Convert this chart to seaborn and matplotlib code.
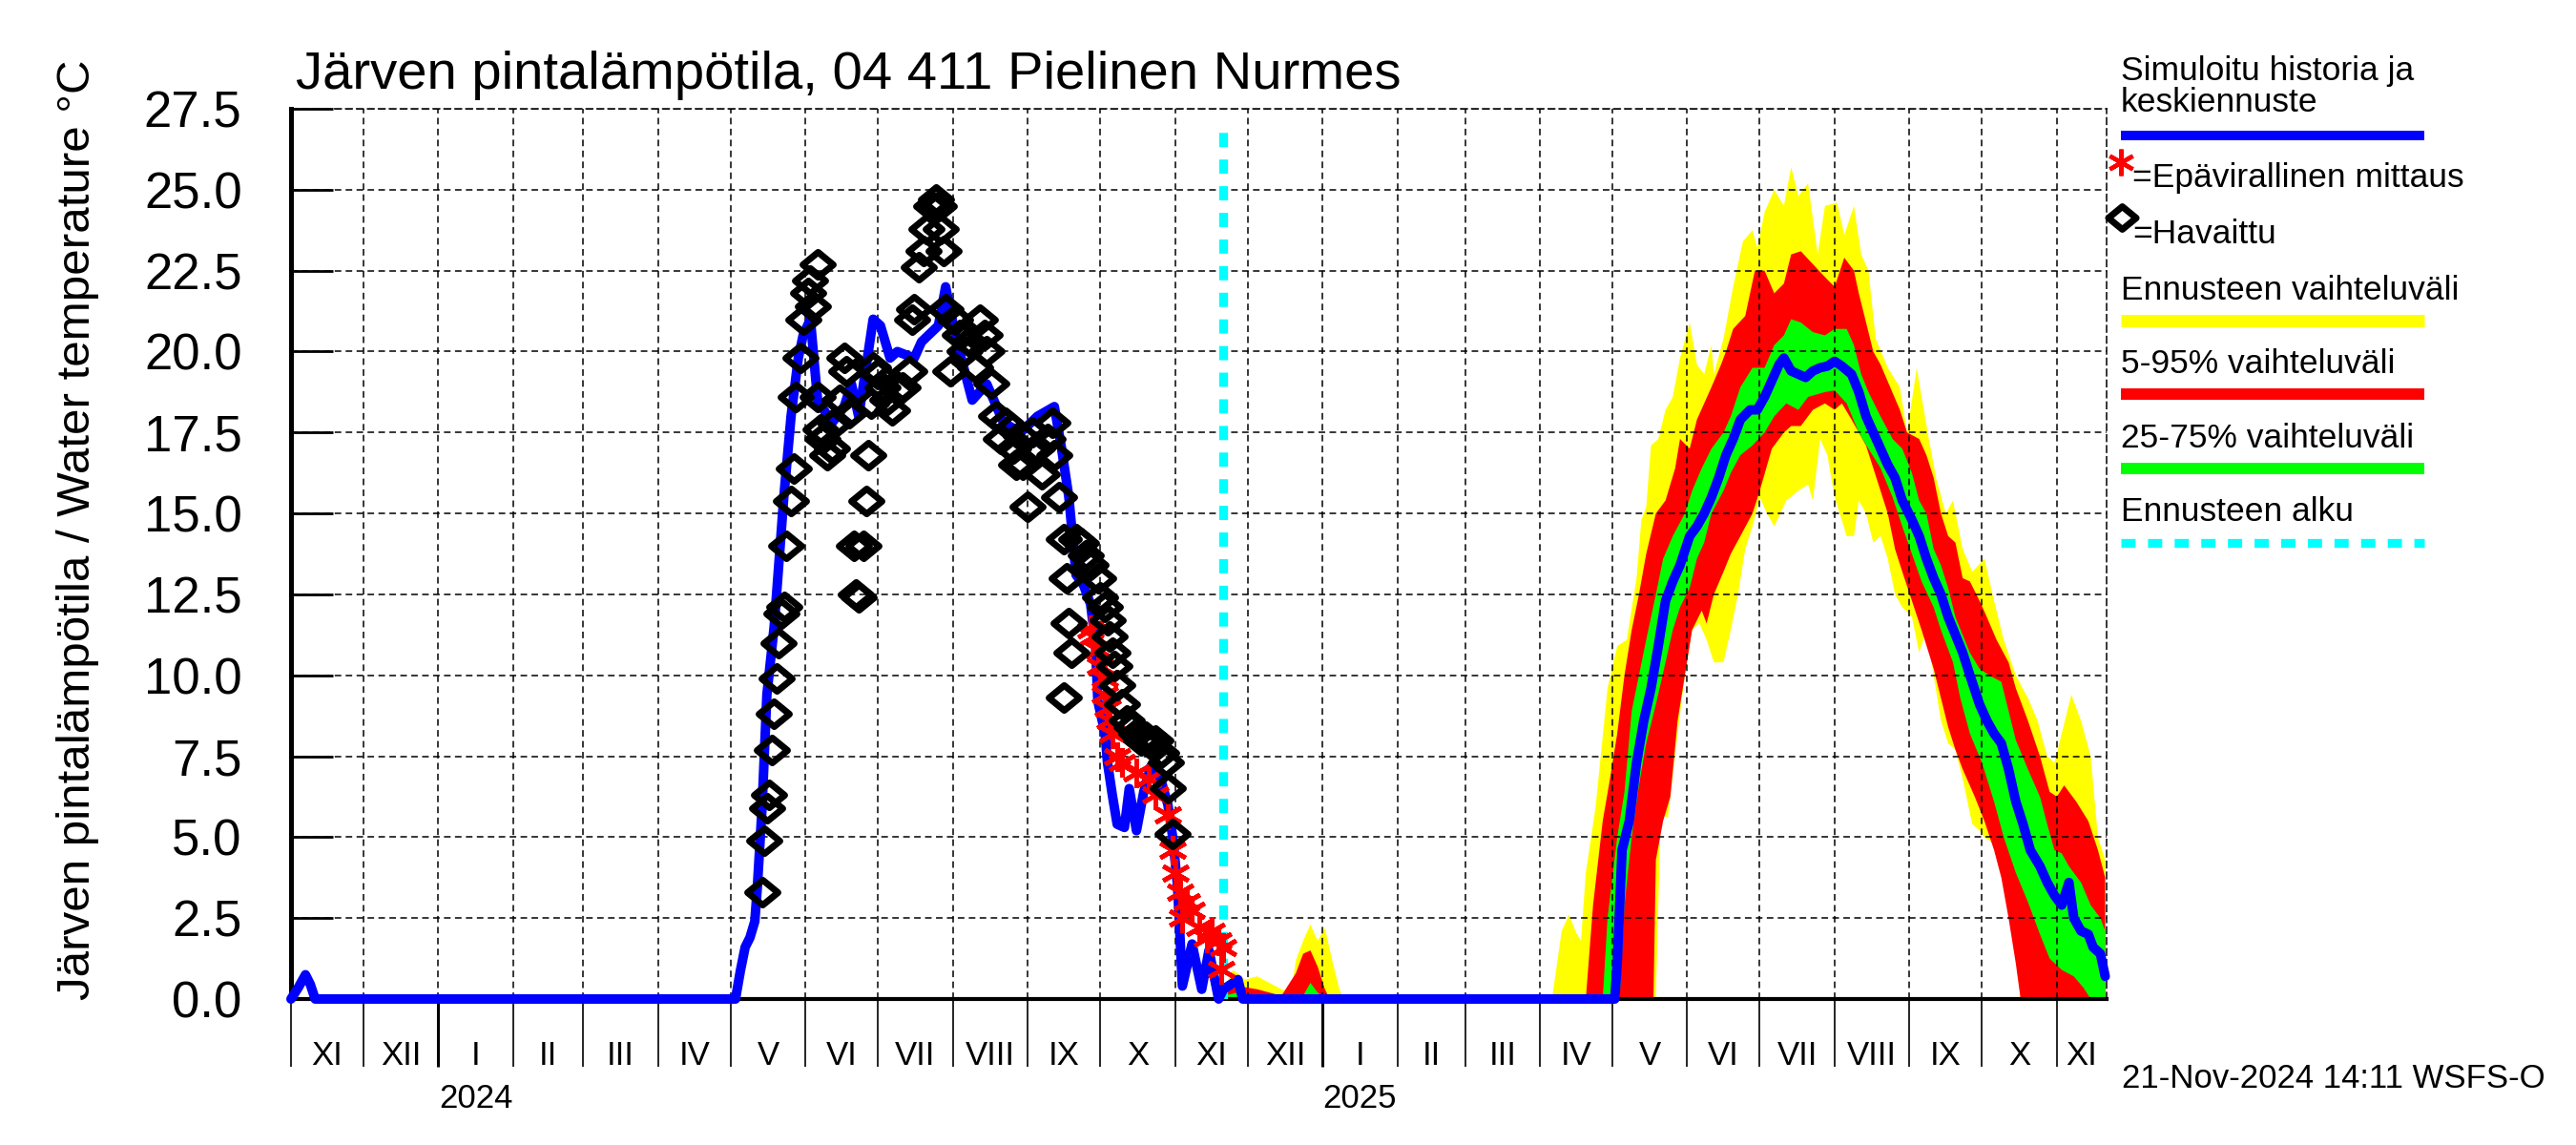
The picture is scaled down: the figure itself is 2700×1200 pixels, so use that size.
import numpy as np
import pandas as pd
import matplotlib
matplotlib.use("Agg")
import matplotlib.pyplot as plt
import matplotlib.dates as mdates
from matplotlib.lines import Line2D
from matplotlib.path import Path
import seaborn as sns

# ---------------- data ----------------
BASE = pd.Timestamp("2023-11-01")      # day 0 for history / observations
FC_BASE = pd.Timestamp("2025-04-01")   # day 0 for the spring-autumn 2025 forecast bands
FORECAST_START = pd.Timestamp("2024-11-21")
XMIN = pd.Timestamp("2023-11-01")
XMAX = pd.Timestamp("2025-11-21 14:00")

# simulated history (blue), days since BASE
sim_day = [0, 3, 6, 8, 10, 184, 186, 188, 190, 192, 193, 195, 197, 200, 202, 204, 207, 210,
           212, 215, 218, 224, 229, 232, 235, 241, 244, 248, 251, 258, 261, 268, 271, 275,
           282, 288, 295, 302, 309, 316, 319, 322, 325, 328, 331, 333, 334, 337, 338, 340,
           342, 345, 347, 350, 353, 356, 360, 363, 365, 367, 369, 373, 377, 380, 384, 386]
sim_val = [0, 0.35, 0.75, 0.45, 0, 0, 0.86, 1.6, 1.9, 2.4, 3.4, 5.9, 9.4, 11.5, 13.5, 15.5, 18.0, 19.8,
           20.5, 21.0, 18.5, 17.8, 18.3, 19.0, 18.0, 21.0, 20.8, 19.8, 20.0, 19.8, 20.3, 20.8, 22.0, 20.5,
           18.5, 19.0, 17.8, 17.5, 18.0, 18.3, 17.0, 15.5, 13.1, 12.8, 12.2, 11.0, 9.2, 8.2, 7.3, 6.3,
           5.4, 5.3, 6.5, 5.2, 6.4, 7.2, 6.8, 6.0, 5.0, 3.5, 0.4, 1.7, 0.3, 1.5, 0.0, 0.3]

# median forecast, winter part (days since BASE)
med_w_day = [386, 388, 392, 394, 548]
med_w_val = [0.3, 0.4, 0.6, 0.0, 0.0]

# median forecast 2025 (days since FC_BASE)
med_day = [31, 32, 34, 37, 40, 43, 46, 49, 52, 55, 58, 62, 65, 68, 71, 74, 77, 80, 83, 87, 90, 93, 96,
           99, 101, 104, 107, 110, 113, 116, 119, 122, 125, 129, 132, 135, 138, 141, 144, 147, 150,
           154, 157, 160, 163, 166, 169, 172, 175, 178, 182, 185, 188, 191, 194, 197, 200, 203, 207,
           210, 213, 216, 219, 221, 224, 227, 229, 232, 234]
med_val = [0, 1.1, 4.6, 5.5, 7.3, 8.6, 9.6, 10.9, 12.3, 12.9, 13.4, 14.3, 14.6, 15.0, 15.5, 16.1, 16.8,
           17.3, 17.9, 18.2, 18.2, 18.6, 19.1, 19.6, 19.8, 19.4, 19.3, 19.2, 19.4, 19.5, 19.55, 19.7,
           19.55, 19.3, 18.75, 18.0, 17.5, 17.0, 16.5, 16.1, 15.4, 14.8, 14.3, 13.6, 13.0, 12.5, 11.8,
           11.25, 10.7, 10.0, 9.1, 8.6, 8.2, 7.9, 7.1, 6.1, 5.4, 4.6, 4.1, 3.6, 3.2, 2.9, 3.6, 2.5, 2.1,
           2.0, 1.6, 1.4, 0.7]

# forecast range (yellow), days since FC_BASE
yel_hi_day = [0, 5, 9, 12, 15, 17, 19, 23, 28, 32, 36, 37, 40, 42, 44, 46, 49, 52, 55, 58, 62, 65, 68,
              71, 72, 76, 80, 84, 88, 90, 93, 97, 101, 104, 107, 111, 115, 118, 123, 126, 130, 133,
              136, 139, 144, 149, 152, 156, 158, 161, 164, 168, 171, 175, 179, 184, 188, 192, 197,
              202, 206, 210, 213, 216, 220, 224, 228, 231, 234]
yel_hi_val = [0, 0, 2.1, 2.6, 2.05, 1.8, 3.9, 5.9, 9.6, 10.9, 11.1, 11.6, 13.0, 14.8, 15.2, 17.1, 17.3,
              18.2, 18.6, 19.8, 20.9, 19.6, 19.3, 20.2, 19.3, 20.4, 22.0, 23.4, 23.75, 23.2, 24.3, 25.0,
              24.5, 25.7, 24.8, 25.2, 23.0, 24.5, 24.6, 23.6, 24.5, 23.0, 22.5, 20.4, 19.5, 18.9, 17.5,
              19.5, 18.6, 17.3, 16.1, 15.0, 15.4, 13.9, 13.2, 13.6, 12.3, 11.1, 10.0, 9.3, 8.6, 7.5, 7.3,
              8.2, 9.4, 8.6, 7.5, 5.0, 4.3]
yel_lo_day = [0, 48, 50, 53, 57, 60, 63, 66, 69, 72, 76, 79, 82, 85, 88, 91, 94, 97, 102, 107, 111, 113,
              116, 119, 122, 127, 130, 132, 135, 138, 141, 144, 147, 150, 154, 157, 160, 163, 166, 169,
              172, 175, 179, 182, 184, 188, 192, 196, 199, 234]
yel_lo_val = [0, 0, 5.7, 5.6, 8.2, 10.0, 11.4, 11.6, 11.1, 10.4, 10.4, 11.4, 12.5, 13.9, 14.6, 15.5,
              15.0, 14.6, 15.4, 15.7, 15.9, 15.4, 17.3, 16.8, 15.5, 14.3, 14.3, 15.4, 15.0, 14.1, 14.3,
              13.6, 12.5, 12.1, 11.8, 10.7, 11.4, 10.0, 8.6, 7.9, 7.7, 6.8, 5.4, 5.2, 5.0, 4.8, 3.6, 2.1,
              0, 0]

# 5-95 % range (red)
red_hi_day = [0, 19, 22, 26, 29, 32, 35, 38, 41, 44, 48, 52, 56, 58, 62, 65, 68, 71, 75, 77, 80, 85,
              89, 93, 97, 101, 104, 108, 113, 118, 122, 126, 130, 132, 135, 138, 141, 145, 149, 152,
              157, 160, 163, 166, 169, 172, 175, 178, 182, 185, 189, 194, 197, 202, 207, 211, 214, 217,
              222, 227, 231, 234]
red_hi_val = [0, 0, 2.9, 5.5, 6.8, 8.2, 10.0, 11.4, 12.5, 13.75, 15.0, 15.4, 16.4, 17.3, 17.0, 17.9,
              18.4, 18.9, 19.6, 20.0, 20.7, 21.1, 22.5, 22.5, 21.8, 22.1, 23.0, 23.1, 22.7, 22.3, 22.0,
              22.9, 22.5, 21.8, 20.9, 20.0, 19.6, 18.9, 18.2, 17.5, 17.3, 16.8, 16.1, 15.0, 14.3, 14.1,
              13.0, 12.9, 12.3, 11.8, 11.1, 10.4, 9.6, 8.6, 7.5, 6.4, 6.25, 6.6, 6.1, 5.5, 4.6, 3.75]
red_lo_day = [0, 47, 48, 51, 54, 57, 60, 63, 67, 69, 72, 76, 79, 83, 88, 91, 96, 101, 104, 108, 113,
              118, 122, 125, 129, 132, 135, 138, 141, 144, 147, 150, 154, 158, 163, 166, 169, 172, 175,
              180, 184, 188, 191, 194, 197, 199, 234]
red_lo_val = [0, 0, 4.3, 5.5, 6.25, 8.6, 10.0, 11.4, 12.0, 11.6, 12.5, 13.2, 13.75, 14.3, 15.0, 15.7,
              17.0, 17.5, 17.7, 17.7, 18.2, 18.4, 18.2, 18.4, 17.9, 17.5, 17.1, 16.4, 15.7, 15.0, 13.9,
              13.2, 12.3, 11.4, 10.2, 9.3, 8.4, 7.7, 7.1, 6.25, 5.5, 4.6, 3.75, 2.5, 1.1, 0, 0]

# 25-75 % range (green)
grn_hi_day = [0, 26, 28, 32, 35, 38, 41, 44, 48, 51, 55, 60, 63, 67, 71, 76, 79, 83, 88, 93, 97, 101,
              104, 108, 113, 118, 122, 127, 130, 133, 136, 141, 146, 150, 154, 157, 160, 163, 166, 169,
              172, 175, 178, 182, 186, 191, 194, 197, 202, 207, 210, 213, 216, 219, 224, 228, 232, 234]
grn_hi_val = [0, 0, 2.5, 5.0, 6.4, 8.9, 10.0, 11.1, 12.5, 13.6, 14.3, 15.0, 15.7, 16.4, 17.0, 17.5,
              18.0, 18.9, 19.5, 19.5, 20.2, 20.5, 21.0, 20.9, 20.6, 20.5, 20.7, 20.7, 20.2, 19.3, 18.75,
              18.0, 17.3, 17.0, 16.25, 15.4, 15.0, 13.9, 13.4, 12.7, 11.8, 11.25, 10.7, 10.2, 10.0, 9.8,
              8.9, 8.0, 7.1, 6.25, 5.4, 4.6, 4.5, 4.1, 3.6, 2.9, 2.5, 2.1]
grn_lo_day = [0, 33, 35, 38, 41, 44, 48, 52, 55, 58, 62, 65, 68, 71, 76, 79, 83, 88, 93, 97, 102, 107,
              111, 118, 122, 127, 132, 136, 141, 146, 150, 154, 158, 163, 166, 171, 174, 178, 183, 188,
              192, 197, 202, 207, 211, 216, 221, 225, 228, 234]
grn_lo_val = [0, 0, 2.9, 5.0, 6.6, 7.9, 9.1, 10.4, 11.4, 12.1, 12.7, 13.6, 14.1, 15.0, 15.7, 16.25,
              16.8, 17.1, 17.5, 18.0, 18.4, 18.2, 18.6, 18.75, 18.8, 18.4, 17.5, 17.0, 16.4, 15.5, 14.6,
              13.75, 12.9, 12.1, 11.4, 10.4, 9.3, 8.2, 7.3, 6.1, 5.0, 3.9, 3.0, 2.0, 1.25, 0.9, 0.7,
              0.35, 0, 0]

# early-winter forecast bands (days since BASE, lower edge 0)
yel_w_day = [386, 390, 395, 400, 405, 410, 414, 416, 419, 422, 425, 428, 431, 434, 436]
yel_w_val = [0.3, 0.9, 0.6, 0.7, 0.5, 0.3, 0.2, 1.2, 1.8, 2.3, 1.8, 2.2, 1.2, 0.3, 0]
red_w_day = [386, 392, 400, 410, 416, 419, 422, 425, 428, 430]
red_w_val = [0.2, 0.4, 0.3, 0.1, 0.8, 1.4, 1.5, 1.0, 0.3, 0]
grn_w_day = [386, 392, 400, 419, 422, 425, 428]
grn_w_val = [0.1, 0.2, 0.1, 0.1, 0.5, 0.2, 0]

# observations (black diamonds), days since BASE
obs_day = [195, 196, 197, 198, 199, 200, 201, 202, 203, 204, 205, 207, 208, 209, 211, 212, 214, 215,
           216, 218, 218, 219, 220, 222, 224, 225, 227, 229, 230, 231, 233, 234, 235, 237, 238, 239,
           240, 241, 243, 245, 247, 249, 251, 253, 256, 257, 258, 260, 262, 263, 265, 267, 268, 269,
           270, 271, 273, 275, 277, 279, 281, 283, 285, 287, 288, 290, 292, 294, 296, 299, 300, 302,
           303, 305, 307, 309, 311, 313, 315, 316, 318, 320, 321, 322, 323, 320, 325, 327, 329, 331,
           334, 335, 337, 338, 339, 340, 341, 342, 344, 346, 348, 350, 352, 354, 356, 358, 360, 362,
           363, 365]
obs_val = [3.3, 4.9, 5.9, 6.3, 7.7, 8.8, 9.9, 11.0, 11.9, 12.1, 14.0, 15.4, 16.4, 18.6, 19.8, 21.0,
           21.8, 22.2, 21.4, 22.7, 18.6, 17.6, 17.3, 16.8, 17.0, 17.8, 18.5, 19.8, 19.4, 18.1, 14.0,
           12.5, 12.4, 14.0, 15.4, 16.8, 18.4, 19.5, 19.3, 18.9, 18.5, 18.2, 18.8, 18.9, 19.4, 21.0,
           21.3, 22.6, 23.1, 23.8, 24.5, 24.7, 24.5, 23.8, 23.1, 21.3, 19.4, 21.0, 20.5, 20.0, 20.3,
           19.5, 21.0, 20.5, 20.0, 19.0, 18.0, 17.3, 17.8, 17.0, 16.5, 17.4, 16.5, 15.2, 17.5, 17.0,
           16.2, 17.3, 17.8, 16.8, 15.5, 14.2, 13.0, 11.6, 10.7, 9.3, 14.2, 14.1, 13.7, 13.4, 13.0,
           12.4, 12.1, 11.7, 11.2, 10.7, 10.3, 9.7, 9.1, 8.6, 8.4, 8.2, 8.0, 8.1, 7.9, 8.0, 7.6, 7.3,
           6.5, 5.1]

# unofficial measurements (red asterisks), days since BASE
ast_day = [331, 332, 334, 335, 337, 337, 338, 339, 340, 342, 344, 350, 355, 358, 363, 365, 366, 368,
           371, 369, 373, 376, 379, 381, 384, 385, 386]
ast_val = [11.4, 11.2, 10.8, 10.3, 9.9, 9.4, 9.0, 8.6, 8.2, 7.5, 7.3, 7.0, 6.8, 6.3, 5.7, 4.6, 3.9,
           3.3, 3.0, 2.5, 2.75, 2.2, 1.9, 2.1, 1.8, 0.9, 1.6]

ROMAN = ["I", "II", "III", "IV", "V", "VI", "VII", "VIII", "IX", "X", "XI", "XII"]
TITLE = "Järven pintalämpötila, 04 411 Pielinen Nurmes"
YLABEL = "Järven pintalämpötila / Water temperature °C"
FOOTER = "21-Nov-2024 14:11 WSFS-O"
LEG_SIM = ["Simuloitu historia ja", "keskiennuste"]
LEG_AST = "=Epävirallinen mittaus"
LEG_OBS = "=Havaittu"
LEG_YEL = "Ennusteen vaihteluväli"
LEG_RED = "5-95% vaihteluväli"
LEG_GRN = "25-75% vaihteluväli"
LEG_CYA = "Ennusteen alku"

# ---------------- helpers ----------------
def to_dates(base, days):
    return base + pd.to_timedelta(np.asarray(days, dtype=float), unit="D")

def band(ax, base, hi_d, hi_v, lo_d, lo_v, color, z):
    xh = mdates.date2num(to_dates(base, hi_d))
    xl = mdates.date2num(to_dates(base, lo_d))
    xs = np.concatenate([xh, xl[::-1]])
    ys = np.concatenate([np.asarray(hi_v, float), np.asarray(lo_v, float)[::-1]])
    ax.fill(xs, ys, color=color, lw=0, zorder=z)

# ---------------- style ----------------
sns.set_theme(style="white", rc={"axes.edgecolor": "black", "xtick.color": "black",
                                 "ytick.color": "black", "text.color": "black",
                                 "axes.labelcolor": "black"})
plt.rcParams["font.family"] = ["Liberation Sans", "DejaVu Sans"]

BLUE = (0, 0, 1)
YEL = (1, 1, 0)
RED = (1, 0, 0)
GRN = (0, 1, 0)
CYA = (0, 1, 1)

W, H = 2700, 1200
fig = plt.figure(figsize=(27, 12), dpi=100)
ax = fig.add_axes([305 / W, 1 - 1047 / H, (2208 - 305) / W, (1047 - 114) / H])

# seaborn line to establish the date axis
sim_df = pd.DataFrame({"date": to_dates(BASE, sim_day), "temp": sim_val})
sns.lineplot(data=sim_df, x="date", y="temp", ax=ax, color=BLUE, linewidth=7.2,
             estimator=None, sort=False, zorder=4, clip_on=False, legend=False)

# forecast bands
band(ax, FC_BASE, yel_hi_day, yel_hi_val, yel_lo_day, yel_lo_val, YEL, 1.0)
band(ax, FC_BASE, red_hi_day, red_hi_val, red_lo_day, red_lo_val, RED, 1.1)
band(ax, FC_BASE, grn_hi_day, grn_hi_val, grn_lo_day, grn_lo_val, GRN, 1.2)
band(ax, BASE, yel_w_day, yel_w_val, yel_w_day, [0] * len(yel_w_day), YEL, 1.0)
band(ax, BASE, red_w_day, red_w_val, red_w_day, [0] * len(red_w_day), RED, 1.1)
band(ax, BASE, grn_w_day, grn_w_val, grn_w_day, [0] * len(grn_w_day), GRN, 1.2)

# median forecast
med_df = pd.DataFrame({"date": np.concatenate([to_dates(BASE, med_w_day), to_dates(FC_BASE, med_day)]),
                       "temp": med_w_val + med_val})
sns.lineplot(data=med_df, x="date", y="temp", ax=ax, color=BLUE, linewidth=7.2,
             estimator=None, sort=False, zorder=4, clip_on=False, legend=False)

# forecast start line
ax.axvline(FORECAST_START, ymax=27.1 / 27.5, color=CYA, lw=6.7, linestyle=(0, (1.6, 1.4)),
           zorder=3.5)

# markers
ast_df = pd.DataFrame({"date": to_dates(BASE, ast_day), "temp": ast_val})
sns.lineplot(data=ast_df, x="date", y="temp", ax=ax, estimator=None, sort=False, legend=False,
             linestyle="none", marker=(6, 2, 0), markersize=22, markeredgewidth=3.4,
             color=RED, markeredgecolor=RED, zorder=5)
diamond = Path([(-1, 0), (0, 0.82), (1, 0), (0, -0.82), (-1, 0)],
               [Path.MOVETO, Path.LINETO, Path.LINETO, Path.LINETO, Path.CLOSEPOLY])
obs_df = pd.DataFrame({"date": to_dates(BASE, obs_day), "temp": obs_val})
sns.lineplot(data=obs_df, x="date", y="temp", ax=ax, estimator=None, sort=False, legend=False,
             linestyle="none", marker=diamond, markersize=23, markeredgewidth=5,
             markerfacecolor="none", markeredgecolor="black", color="black", zorder=6)

# ---------------- axes ----------------
ax.set_xlim(XMIN, XMAX)
ax.set_ylim(0, 27.5)
ax.set_xlabel("")
ax.set_ylabel("")
ax.set_yticks(np.arange(0, 27.51, 2.5))
ax.set_yticklabels([f"{v:.1f}" for v in np.arange(0, 27.51, 2.5)])
ax.xaxis.set_major_locator(mdates.YearLocator())
ax.xaxis.set_minor_locator(mdates.MonthLocator())
ax.tick_params(axis="x", which="both", direction="out", length=51, bottom=True,
               labelbottom=False, color="black")
ax.tick_params(axis="x", which="major", width=2.2)
ax.tick_params(axis="x", which="minor", width=1.2)
ax.tick_params(axis="y", which="major", direction="in", length=32, width=2, left=True,
               labelsize=38, pad=37)
ax.set_axisbelow(False)
grid_ls = (0, (4.5, 3.0))
ax.grid(True, which="both", axis="x", color="black", linestyle=grid_ls, linewidth=1.1)
ax.grid(True, which="major", axis="y", color="black", linestyle=grid_ls, linewidth=1.1)
for s in ("top", "right"):
    ax.spines[s].set_visible(True)
    ax.spines[s].set_linestyle(grid_ls)
    ax.spines[s].set_linewidth(1.1)
ax.spines["left"].set_linewidth(3.6)
ax.spines["bottom"].set_linewidth(3.0)
ax.spines["bottom"].set_zorder(3)

# month and year labels
xtr = ax.get_xaxis_transform()
for m in pd.date_range("2023-11-01", "2025-11-01", freq="MS"):
    start = max(m, XMIN)
    end = min(m + pd.offsets.MonthBegin(1), XMAX)
    center = start + (end - start) / 2
    ax.text(center, -0.0643, ROMAN[m.month - 1], transform=xtr, ha="center", va="center",
            fontsize=25)
    if m.month == 1:
        ax.text(center, -0.1125, str(m.year), transform=xtr, ha="center", va="center",
                fontsize=25)

# ---------------- figure texts ----------------
fig.text(310 / W, 1 - 93 / H, TITLE, fontsize=40.5, va="baseline", ha="left")
fig.text(82 / W, 1 - 555 / H, YLABEL, fontsize=35.5, rotation=90, va="center", ha="center")
fig.text(2224 / W, 1 - 1140 / H, FOOTER, fontsize=25, va="baseline", ha="left")

# ---------------- legend (drawn manually) ----------------
LX0, LX1 = 2223 / W, 2541 / W
def fy(y):
    return 1 - y / H
fig.text(LX0, fy(84), LEG_SIM[0], fontsize=25.5, va="baseline")
fig.text(LX0, fy(117), LEG_SIM[1], fontsize=25.5, va="baseline")
fig.add_artist(Line2D([LX0, LX1], [fy(142), fy(142)], color=BLUE, lw=7.2,
                      solid_capstyle="butt", transform=fig.transFigure))
fig.add_artist(Line2D([2223 / W], [fy(170)], marker=(6, 2, 0), markersize=20,
                      markeredgewidth=3.2, color=RED, linestyle="none", transform=fig.transFigure))
fig.text(2235 / W, fy(196), LEG_AST, fontsize=25.5, va="baseline")
fig.add_artist(Line2D([2224 / W], [fy(228)], marker=diamond, markersize=21, markeredgewidth=5,
                      markerfacecolor="none", markeredgecolor="black", linestyle="none",
                      transform=fig.transFigure))
fig.text(2235 / W, fy(255), LEG_OBS, fontsize=25.5, va="baseline")
fig.text(LX0, fy(314), LEG_YEL, fontsize=25.5, va="baseline")
fig.add_artist(Line2D([LX0, LX1], [fy(335.5), fy(335.5)], color=YEL, lw=9.4,
                      solid_capstyle="butt", transform=fig.transFigure))
fig.text(LX0, fy(391), LEG_RED, fontsize=25.5, va="baseline")
fig.add_artist(Line2D([LX0, LX1], [fy(413), fy(413)], color=RED, lw=8.6,
                      solid_capstyle="butt", transform=fig.transFigure))
fig.text(LX0, fy(469), LEG_GRN, fontsize=25.5, va="baseline")
fig.add_artist(Line2D([LX0, LX1], [fy(491), fy(491)], color=GRN, lw=8.6,
                      solid_capstyle="butt", transform=fig.transFigure))
fig.text(LX0, fy(546), LEG_CYA, fontsize=25.5, va="baseline")
fig.add_artist(Line2D([LX0, LX1], [fy(568.5), fy(568.5)], color=CYA, lw=6.7,
                      linestyle=(0, (1.6, 1.4)), dash_capstyle="butt", transform=fig.transFigure))

fig.savefig("out.png", dpi=100)
